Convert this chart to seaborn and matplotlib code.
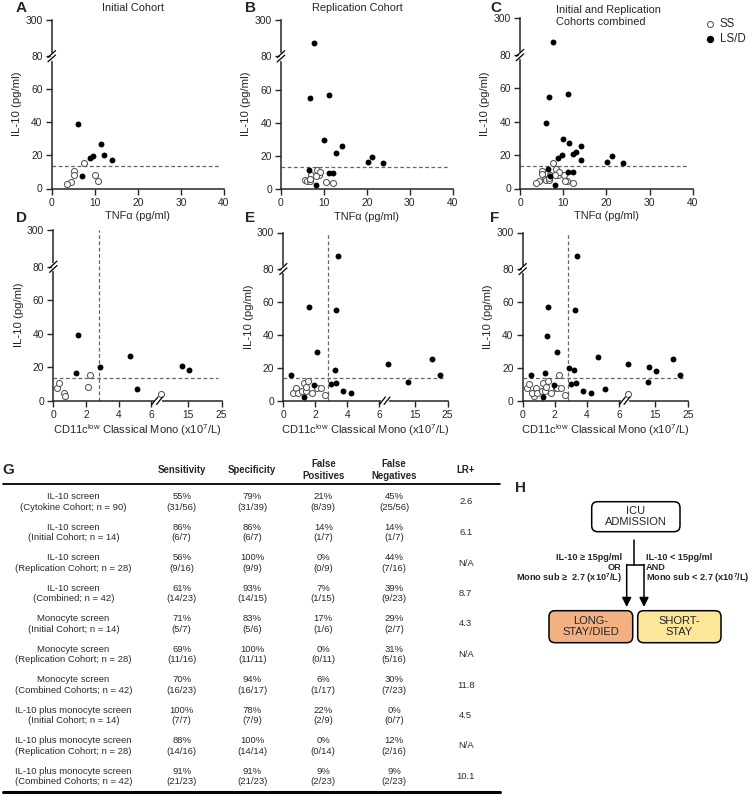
import numpy as np
import seaborn as sns
import matplotlib.pyplot as plt
from matplotlib.patches import FancyBboxPatch

# IL-10 vs TNFa, initial cohort (panel A)
init_tnf_ss = [7.6, 5.2, 5.2, 4.5, 3.6, 10.1, 10.8]
init_il10_ss = [15.4, 10.6, 8.4, 4.2, 3.0, 8.0, 4.4]
init_tnf_ld = [6.0, 7.0, 8.9, 9.7, 11.4, 12.2, 14.1]
init_il10_ld = [39.0, 7.4, 18.2, 19.8, 27.0, 20.5, 17.0]

# IL-10 vs TNFa, replication cohort (panel B)
rep_tnf_ss = [5.7, 6.0, 6.8, 7.0, 8.3, 8.8, 9.1, 8.2, 10.5, 12.2, 6.8]
rep_il10_ss = [5.7, 5.1, 4.8, 8.3, 11.7, 8.3, 10.1, 8.1, 4.2, 3.4, 6.3]
rep_tnf_ld = [7.7, 6.7, 11.2, 10.0, 12.9, 14.2, 6.5, 11.1, 12.2, 8.1, 20.2, 21.3, 23.8]
rep_il10_ld = [157, 55.0, 56.6, 29.7, 22.0, 25.7, 11.5, 9.9, 9.9, 2.2, 16.0, 19.2, 15.4]

# IL-10 vs CD11c-low classical monocytes, initial cohort (panel D)
init_mono_ss = [0.24, 0.37, 0.67, 0.73, 2.1, 2.24, 6.8]
init_il10m_ss = [7.8, 10.4, 4.8, 2.8, 8.0, 15.4, 4.0]
init_mono_ld = [1.49, 1.39, 2.88, 4.69, 5.14, 13.1, 15.2]
init_il10m_ld = [39.2, 16.8, 20.0, 26.8, 7.0, 20.6, 18.2]

# IL-10 vs CD11c-low classical monocytes, replication cohort (panel E)
rep_mono_ss = [0.59, 0.82, 0.9, 1.18, 1.27, 1.39, 1.43, 1.55, 1.78, 2.12, 2.37, 2.63]
rep_il10m_ss = [4.8, 8.0, 4.8, 5.8, 11.0, 5.8, 8.4, 12.0, 4.4, 8.0, 8.0, 3.4]
rep_mono_ld = [0.49, 2.14, 1.94, 1.27, 3.22, 3.0, 3.29, 3.76, 4.24, 6.6, 12.7, 20.3, 22.5, 3.41, 1.59, 3.27]
rep_il10m_ld = [15.4, 29.6, 9.8, 2.2, 18.8, 10.0, 10.8, 5.8, 4.4, 22.0, 11.6, 25.6, 15.6, 158, 57.0, 55.0]

il10_cut = 13.5
mono_cut = 2.8

# table G
screens = ["IL-10 screen"] * 4 + ["Monocyte screen"] * 3 + ["IL-10 plus monocyte screen"] * 3
cohorts = ["(Cytokine Cohort; n = 90)", "(Initial Cohort; n = 14)", "(Replication Cohort; n = 28)",
           "(Combined; n = 42)", "(Initial Cohort; n = 14)", "(Replication Cohort; n = 28)",
           "(Combined Cohorts; n = 42)", "(Initial Cohort; n = 14)", "(Replication Cohort; n = 28)",
           "(Combined Cohorts; n = 42)"]
sens_pct = ["55%", "86%", "56%", "61%", "71%", "69%", "70%", "100%", "88%", "91%"]
sens_n = ["(31/56)", "(6/7)", "(9/16)", "(14/23)", "(5/7)", "(11/16)", "(16/23)", "(7/7)", "(14/16)", "(21/23)"]
spec_pct = ["79%", "86%", "100%", "93%", "83%", "100%", "94%", "78%", "100%", "91%"]
spec_n = ["(31/39)", "(6/7)", "(9/9)", "(14/15)", "(5/6)", "(11/11)", "(16/17)", "(7/9)", "(14/14)", "(21/23)"]
fp_pct = ["21%", "14%", "0%", "7%", "17%", "0%", "6%", "22%", "0%", "9%"]
fp_n = ["(8/39)", "(1/7)", "(0/9)", "(1/15)", "(1/6)", "(0/11)", "(1/17)", "(2/9)", "(0/14)", "(2/23)"]
fn_pct = ["45%", "14%", "44%", "39%", "29%", "31%", "30%", "0%", "12%", "9%"]
fn_n = ["(25/56)", "(1/7)", "(7/16)", "(9/23)", "(2/7)", "(5/16)", "(7/23)", "(0/7)", "(2/16)", "(2/23)"]
lr_plus = ["2.6", "6.1", "N/A", "8.7", "4.3", "N/A", "11.8", "4.5", "N/A", "10.1"]
headers = ["Sensitivity", "Specificity", "False\nPositives", "False\nNegatives", "LR+"]

sns.set_style("ticks")
plt.rcParams["font.family"] = ["Liberation Sans", "DejaVu Sans"]
plt.rcParams["mathtext.fontset"] = "custom"
plt.rcParams["mathtext.rm"] = "Liberation Sans"
plt.rcParams["mathtext.bf"] = "Liberation Sans:bold"

W, H = 750, 794
fig = plt.figure(figsize=(7.5, 7.94), dpi=100)


def px_axes(left, top, right, bottom):
    return fig.add_axes([left / W, 1 - bottom / H, (right - left) / W, (bottom - top) / H])


def il10_fwd(y):
    y = np.asarray(y, dtype=float)
    return np.where(y <= 80, y, 80 + (y - 80) * 0.101)


def il10_inv(y):
    y = np.asarray(y, dtype=float)
    return np.where(y <= 80, y, 80 + (y - 80) / 0.101)


def mono_fwd(x):
    x = np.asarray(x, dtype=float)
    return np.where(x <= 6.5, x, 8.25 + (x - 15) * 0.204)


def mono_inv(x):
    x = np.asarray(x, dtype=float)
    return np.where(x <= 6.5, x, np.maximum(6.5, 15 + (x - 8.25) / 0.204))


def break_mark(ax, pos, axis="y"):
    # GraphPad style "//" on a broken axis
    kw = dict(transform=ax.transAxes, clip_on=False, color="black", lw=0.9, zorder=6)
    if axis == "y":
        ax.plot([0, 0], [pos - 0.014, pos + 0.014], transform=ax.transAxes, clip_on=False,
                color="white", lw=2.5, zorder=5)
        for d in (-0.013, 0.013):
            ax.plot([-0.022, 0.022], [pos + d - 0.02, pos + d + 0.02], **kw)
    else:
        ax.plot([pos - 0.016, pos + 0.016], [0, 0], transform=ax.transAxes, clip_on=False,
                color="white", lw=2.5, zorder=5)
        for d in (-0.014, 0.014):
            ax.plot([pos + d - 0.018, pos + d + 0.018], [-0.022, 0.022], **kw)


def scatter_panel(ax, x_ss, y_ss, x_ld, y_ld, mono=False):
    ax.set_yscale("function", functions=(il10_fwd, il10_inv))
    if mono:
        ax.set_xscale("function", functions=(mono_fwd, mono_inv))
    sns.scatterplot(x=x_ss, y=y_ss, ax=ax, color="white", edgecolor="#555555",
                    linewidth=0.75, s=19, zorder=3, clip_on=False)
    sns.scatterplot(x=x_ld, y=y_ld, ax=ax, color="black", linewidth=0, s=18,
                    zorder=4, clip_on=False)
    sns.despine(ax=ax)
    for s in ("left", "bottom"):
        ax.spines[s].set_linewidth(1.1)
    ax.tick_params(direction="out", length=4, width=1.0, labelsize=7.4, pad=2.5)
    ax.set_ylim(0, 300)
    ax.set_yticks([0, 20, 40, 60, 80, 300])
    ax.set_ylabel("IL-10 (pg/ml)", fontsize=8.2, labelpad=2.5)
    break_mark(ax, float(il10_fwd(80) / il10_fwd(300)), "y")
    dash = dict(color="#666666", lw=0.9, ls=(0, (3, 2)), zorder=2)
    if mono:
        ax.set_xlim(0, 25)
        ax.set_xticks([0, 2, 4, 6, 15, 25])
        ax.set_xlabel("CD11c$^{\\mathrm{low}}$ Classical Mono (x10$^{7}$/L)", fontsize=8, labelpad=2)
        ax.plot([0, 24], [il10_cut, il10_cut], **dash)
        ax.plot([mono_cut, mono_cut], [0, 300], **dash)
        break_mark(ax, float(mono_fwd(6.35) / mono_fwd(25)), "x")
    else:
        ax.set_xlim(0, 40)
        ax.set_xticks([0, 10, 20, 30, 40])
        ax.set_xlabel("TNF\u03b1 (pg/ml)", fontsize=7.9, labelpad=2.5)
        ax.plot([0, 39], [il10_cut, il10_cut], **dash)


axA = px_axes(51.7, 19.5, 224, 188.5)
axB = px_axes(281, 19.5, 452.7, 189)
axC = px_axes(520, 18, 692.7, 188.5)
axD = px_axes(53.3, 229.5, 221.7, 400.7)
axE = px_axes(283.3, 232.5, 447.7, 400.7)
axF = px_axes(522.7, 232.5, 688, 400.7)

scatter_panel(axA, init_tnf_ss, init_il10_ss, init_tnf_ld, init_il10_ld)
scatter_panel(axB, rep_tnf_ss, rep_il10_ss, rep_tnf_ld, rep_il10_ld)
scatter_panel(axC, init_tnf_ss + rep_tnf_ss, init_il10_ss + rep_il10_ss,
              init_tnf_ld + rep_tnf_ld, init_il10_ld + rep_il10_ld)
scatter_panel(axD, init_mono_ss, init_il10m_ss, init_mono_ld, init_il10m_ld, mono=True)
scatter_panel(axE, rep_mono_ss, rep_il10m_ss, rep_mono_ld, rep_il10m_ld, mono=True)
scatter_panel(axF, init_mono_ss + rep_mono_ss, init_il10m_ss + rep_il10m_ss,
              init_mono_ld + rep_mono_ld, init_il10m_ld + rep_il10m_ld, mono=True)

# overlay in pixel coordinates for titles, table and flowchart
ov = fig.add_axes([0, 0, 1, 1], zorder=10)
ov.set_xlim(0, W)
ov.set_ylim(H, 0)
ov.axis("off")

letter = dict(fontsize=11, fontweight="bold", va="center", ha="left")
for lab, x, y in [("A", 16, 8), ("B", 245, 8), ("C", 490, 8), ("D", 16, 218),
                  ("E", 245, 218), ("F", 490, 218), ("G", 2, 470), ("H", 515, 488)]:
    ov.text(x, y, lab, **letter)

ov.text(133, 8, "Initial Cohort", fontsize=7.9, ha="center", va="center")
ov.text(357.7, 8, "Replication Cohort", fontsize=7.9, ha="center", va="center")
ov.text(556, 16, "Initial and Replication\nCohorts combined", fontsize=7.9, ha="left",
        va="center", linespacing=1.15)

# legend
ov.plot([710], [24], "o", mfc="white", mec="#555555", ms=4.3, mew=0.75)
ov.plot([710], [39.3], "o", color="black", ms=4.3)
ov.text(720, 24, "SS", fontsize=8.3, va="center")
ov.text(720, 39.3, "LS/D", fontsize=8.3, va="center")

# table G
col_x = [181.7, 252.3, 323.3, 394, 465.7]
for x, h in zip(col_x, headers):
    ov.text(x, 470, h, fontsize=6.9, fontweight="bold", ha="center", va="center", linespacing=1.15)
ov.plot([3, 500], [484, 484], color="black", lw=1.3)
ov.plot([3, 500], [791.5, 791.5], color="black", lw=2.2)
body = dict(fontsize=6.8, ha="center", va="center", color="#2a2a2a")
for i in range(len(screens)):
    yc = 502 + i * 30.5
    ov.text(73.5, yc - 5.4, screens[i], **body)
    ov.text(73.5, yc + 5.4, cohorts[i], **body)
    for x, p, n in zip(col_x[:4], [sens_pct, spec_pct, fp_pct, fn_pct], [sens_n, spec_n, fp_n, fn_n]):
        ov.text(x, yc - 5.4, p[i], **body)
        ov.text(x, yc + 5.4, n[i], **body)
    ov.text(col_x[4], yc, lr_plus[i], **body)

# flowchart H
box = dict(boxstyle="round,pad=0,rounding_size=6", lw=1.1, ec="black")
ov.add_patch(FancyBboxPatch((591.7, 501.7), 88.3, 30, fc="white", **box))
ov.add_patch(FancyBboxPatch((549, 610.7), 83.7, 32, fc="#f3b183", **box))
ov.add_patch(FancyBboxPatch((637.7, 610.7), 83.3, 32, fc="#fbe69a", **box))
ov.text(635.8, 516.7, "ICU\nADMISSION", fontsize=8, ha="center", va="center", linespacing=1.1)
ov.text(590.8, 626.7, "LONG-\nSTAY/DIED", fontsize=8, ha="center", va="center", linespacing=1.1)
ov.text(679.3, 626.7, "SHORT-\nSTAY", fontsize=8, ha="center", va="center", linespacing=1.1)
ov.plot([634.3, 634.3], [540, 565], color="black", lw=1.1)
ov.plot([626.7, 644], [565, 565], color="black", lw=1.1)
for x in (626.7, 644):
    ov.annotate("", xy=(x, 607), xytext=(x, 564.5),
                arrowprops=dict(arrowstyle="-|>", lw=1.1, color="black", mutation_scale=14,
                                shrinkA=0, shrinkB=0))
cond = dict(fontsize=6.6, fontweight="bold", va="center")
ov.text(621.7, 557.3, "IL-10 \u2265 15pg/ml", ha="right", **cond)
ov.text(621.7, 567.3, "OR", ha="right", **cond)
ov.text(621.7, 578.3, "Mono sub \u2265  2.7 (x10$^{\\mathbf{7}}$/L)", ha="right", **cond)
ov.text(645.7, 557.3, "IL-10 < 15pg/ml", ha="left", **cond)
ov.text(645.7, 567.3, "AND", ha="left", **cond)
ov.text(645.7, 578.3, "Mono sub < 2.7 (x10$^{\\mathbf{7}}$/L)", ha="left", **cond)

fig.savefig("out.png", dpi=100)
